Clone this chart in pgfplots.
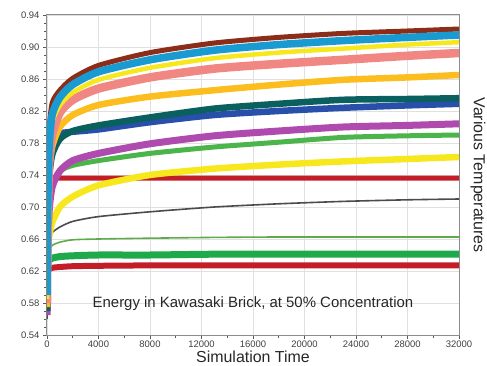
\documentclass[border=0pt]{standalone}
\usepackage{pgfplots}
\pgfplotsset{compat=1.18}
\usepackage{pgfplotstable}
\usepackage{fontspec}
\setmainfont{Liberation Sans}

\definecolor{cBrown}{RGB}{140,45,25}
\definecolor{cCyan}{RGB}{25,155,210}
\definecolor{cYellow}{RGB}{247,232,30}
\definecolor{cPink}{RGB}{240,135,130}
\definecolor{cOrange}{RGB}{252,190,30}
\definecolor{cTeal}{RGB}{10,95,95}
\definecolor{cBlue}{RGB}{40,80,170}
\definecolor{cMagenta}{RGB}{175,75,175}
\definecolor{cGreen}{RGB}{75,180,75}
\definecolor{cRed}{RGB}{195,30,40}
\definecolor{cGray}{RGB}{75,75,75}
\definecolor{cLGreen}{RGB}{95,170,75}
\definecolor{cGThick}{RGB}{30,170,75}
\definecolor{cFrame}{RGB}{140,140,140}

% Energy traces: one column per temperature
\pgfplotstableread{
x     brown  cyan  yelA  pink   orange teal  blue  magenta green yelB   redA  gray  lgreen gthick redB
0     0.600  0.590 0.585 0.580  0.575  0.570 0.570 0.565   0.565 0.570  0.600 0.560 0.580  0.600  0.570
40    0.700  0.680 0.670 0.660  0.650  0.640 0.680 0.620   0.630 0.620  0.736 0.640 0.635  0.628  0.618
150   0.790  0.770 0.760 0.750  0.740  0.730 0.765 0.690   0.700 0.660  0.736 0.660 0.645  0.633  0.622
400   0.830  0.815 0.805 0.790  0.775  0.765 0.785 0.725   0.730 0.680  0.736 0.668 0.652  0.636  0.624
1000  0.846  0.837 0.827 0.818  0.800  0.785 0.792 0.745   0.745 0.700  0.736 0.675 0.656  0.638  0.625
2000  0.861  0.853 0.843 0.834  0.815  0.795 0.794 0.758   0.752 0.713  0.736 0.682 0.659  0.639  0.626
4000  0.877  0.869 0.859 0.848  0.8275 0.802 0.797 0.767   0.758 0.727  0.736 0.688 0.660  0.640  0.6265
8000  0.893  0.884 0.874 0.862  0.838  0.812 0.806 0.779   0.767 0.740  0.736 0.694 0.661  0.640  0.627
13000 0.905  0.896 0.886 0.873  0.846  0.823 0.815 0.789   0.775 0.748  0.736 0.700 0.662  0.641  0.627
18000 0.912  0.903 0.893 0.879  0.853  0.829 0.820 0.795   0.781 0.753  0.736 0.704 0.6625 0.641  0.627
23000 0.917  0.908 0.898 0.884  0.859  0.834 0.824 0.800   0.787 0.757  0.736 0.707 0.6625 0.641  0.627
28000 0.920  0.912 0.903 0.889  0.862  0.835 0.827 0.802   0.789 0.760  0.736 0.709 0.6625 0.641  0.627
32000 0.9225 0.915 0.906 0.8925 0.865  0.836 0.829 0.804   0.790 0.7625 0.736 0.710 0.6625 0.641  0.627
}\energy

\begin{document}
\begin{tikzpicture}
\begin{axis}[
  scale only axis, width=412bp, height=320bp,
  xmin=0, xmax=32000, ymin=0.54, ymax=0.94,
  xtick={0,4000,8000,12000,16000,20000,24000,28000,32000},
  ytick={0.54,0.58,0.62,0.66,0.70,0.74,0.78,0.82,0.86,0.90,0.94},
  minor x tick num=1, minor y tick num=3,
  grid=major, major grid style={black!12, line width=0.5bp},
  axis line style={cFrame, line width=1bp},
  tick align=outside, tick pos=left,
  major tick length=4bp, minor tick length=2.5bp,
  tick style={black!65, line width=0.6bp},
  scaled x ticks=false, scaled y ticks=false,
  /pgf/number format/assume math mode=true,
  tick label style={font=\fontsize{9.5}{11}\selectfont, text=black!75},
  yticklabel style={/pgf/number format/fixed, /pgf/number format/precision=2,
                    /pgf/number format/fixed zerofill},
  xticklabel style={/pgf/number format/set thousands separator={}, inner sep=1.5bp},
  xlabel={Simulation Time}, ylabel={Various Temperatures},
  label style={font=\fontsize{16}{18}\selectfont, text=black!85, inner sep=0pt},
  xlabel style={at={(axis description cs:0.5,-0.067)}, anchor=center},
  ylabel style={at={(axis description cs:1.046,0.5)}, anchor=center, rotate=180},
  every axis plot/.append style={smooth, tension=0.4},
]
\addplot[cRed,     line width=5bp]   table[y=redA]    {\energy};
\addplot[cRed,     line width=6bp]   table[y=redB]    {\energy};
\addplot[cGThick,  line width=7bp]   table[y=gthick]  {\energy};
\addplot[cLGreen,  line width=1.6bp] table[y=lgreen]  {\energy};
\addplot[cGray,    line width=1.6bp] table[y=gray]    {\energy};
\addplot[cYellow,  line width=6.5bp] table[y=yelB]    {\energy};
\addplot[cGreen,   line width=5bp]   table[y=green]   {\energy};
\addplot[cMagenta, line width=7bp]   table[y=magenta] {\energy};
\addplot[cBlue,    line width=6.5bp] table[y=blue]    {\energy};
\addplot[cTeal,    line width=6.5bp] table[y=teal]    {\energy};
\addplot[cOrange,  line width=6.5bp] table[y=orange]  {\energy};
\addplot[cPink,    line width=8.5bp] table[y=pink]    {\energy};
\addplot[cYellow,  line width=4.5bp] table[y=yelA]    {\energy};
\addplot[cBrown,   line width=5bp]   table[y=brown]   {\energy};
\addplot[cCyan,    line width=7.5bp] table[y=cyan]    {\energy};
\node[font=\fontsize{15}{18}\selectfont, text=black!85] at (axis cs:16000,0.579)
  {Energy in Kawasaki Brick, at 50\% Concentration};
\end{axis}
\pgfresetboundingbox
\path[use as bounding box] (-47bp,-31bp) rectangle (440bp,335bp);
\end{tikzpicture}
\end{document}
